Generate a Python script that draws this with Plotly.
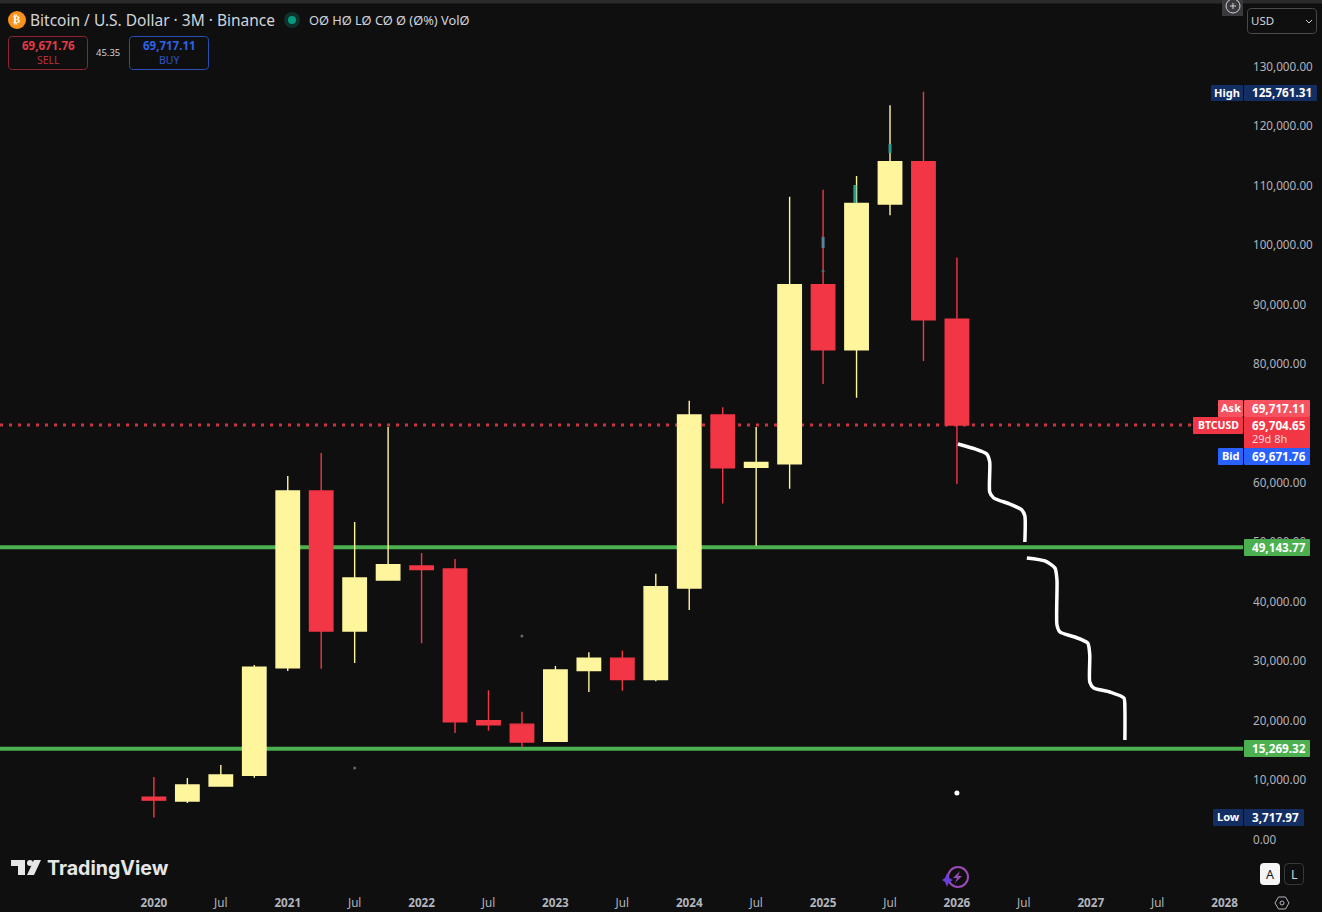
import plotly.graph_objects as go

# ---------- data ----------
quarters = list(range(25))
opens  = [7100, 6475, 9000, 10780, 28900, 58620, 35070, 43650, 46000, 45500, 20000, 19400, 16500,
          28400, 30500, 26900, 42300, 71400, 62600, 63200, 93300, 82350, 106900, 114000, 87500]
highs  = [10513, 10345, 12530, 29350, 61150, 65000, 53400, 69400, 48200, 47200, 25100, 21500, 29200,
          31500, 31800, 44700, 73800, 72700, 69400, 108100, 109300, 111600, 123500, 125761, 97900]
lows   = [3718, 6140, 8900, 10400, 28350, 28700, 29700, 43500, 33000, 17900, 18300, 15500, 16400,
          24800, 25000, 26600, 38600, 56500, 49400, 59000, 76600, 74300, 105000, 80500, 59800]
closes = [6620, 9167, 10850, 29000, 58620, 35070, 44000, 46200, 45400, 19800, 19300, 16400, 28500,
          30500, 26900, 42500, 71400, 62500, 63400, 93300, 82350, 107000, 114000, 87400, 69700]

path_a_x = [24.03, 24.54, 24.89, 24.98, 24.98, 25.10, 25.58, 25.94, 26.03, 26.03]
path_a_y = [66530, 65690, 64850, 63500, 58450, 57440, 56430, 55430, 54420, 50040]
path_b_x = [26.09, 26.63, 26.93, 26.99, 26.99, 27.08, 27.52, 27.91, 27.97, 27.97, 28.09, 28.57, 28.99, 29.02, 29.02]
path_b_y = [47350, 46850, 45670, 43650, 36080, 34900, 34060, 33050, 31030, 26490, 25480, 24810, 23800, 21780, 16740]

support_levels = [49143.77, 15269.32]
last_price = 69704.65

slate_x = [20, 20]; slate_y = [101360, 99500]
teal_x = [20.95, 20.95, None, 22, 22]; teal_y = [110090, 107060, None, 116990, 115470]
speck_x = [6, 11, 20]; speck_y = [12030, 34230, 95630]
dot_x = [24]; dot_y = [7820]

tick_pos = [0, 2, 4, 6, 8, 10, 12, 14, 16, 18, 20, 22, 24, 26, 28, 30, 32]
tick_txt = ["<b>2020</b>", "Jul", "<b>2021</b>", "Jul", "<b>2022</b>", "Jul", "<b>2023</b>", "Jul", "<b>2024</b>",
            "Jul", "<b>2025</b>", "Jul", "<b>2026</b>", "Jul", "<b>2027</b>", "Jul", "<b>2028</b>"]
price_ticks = list(range(0, 140000, 10000))

# ---------- style ----------
BG, UP, DN = "#0f0f0f", "#fff59d", "#f23645"
GREEN, NAVY, BLUE = "#4caf50", "#132e63", "#2962ff"
GREY = "#b2b5be"
FONT = "Noto Sans"
W, H = 1322, 912
L, R, T, B = 0, 79, 4, 22
PW, PH = W - L - R, H - T - B

def px(x): return (x - L) / PW
def py(y): return 1 - (y - T) / PH

shapes, annos = [], []

def rect(x0, y0, x1, y1, fill=None, line=None, lw=1, r=0):
    k = lambda a, b: f"{px(a):.5f},{py(b):.5f}"
    if r:
        d = (f"M{k(x0 + r, y0)} L{k(x1 - r, y0)} Q{k(x1, y0)} {k(x1, y0 + r)} L{k(x1, y1 - r)} "
             f"Q{k(x1, y1)} {k(x1 - r, y1)} L{k(x0 + r, y1)} Q{k(x0, y1)} {k(x0, y1 - r)} "
             f"L{k(x0, y0 + r)} Q{k(x0, y0)} {k(x0 + r, y0)} Z")
    else:
        d = f"M{k(x0, y0)} L{k(x1, y0)} L{k(x1, y1)} L{k(x0, y1)} Z"
    shapes.append(dict(type="path", xref="paper", yref="paper", layer="above", path=d,
                       fillcolor=fill or "rgba(0,0,0,0)", line=dict(color=line or "rgba(0,0,0,0)", width=lw if line else 0)))

def circ(cx, cy, r, fill=None, line=None, lw=1):
    shapes.append(dict(type="circle", xref="paper", yref="paper", layer="above",
                       x0=px(cx - r), x1=px(cx + r), y0=py(cy + r), y1=py(cy - r),
                       fillcolor=fill or "rgba(0,0,0,0)", line=dict(color=line or "rgba(0,0,0,0)", width=lw if line else 0)))

def poly(pts, fill=None, line=None, lw=1, close=True):
    d = "M" + " L".join(f"{px(a):.5f},{py(b):.5f}" for a, b in pts) + (" Z" if close else "")
    shapes.append(dict(type="path", xref="paper", yref="paper", layer="above", path=d,
                       fillcolor=fill or "rgba(0,0,0,0)", line=dict(color=line or "rgba(0,0,0,0)", width=lw if line else 0)))

def text(x, y, s, size=12, color="#ffffff", anchor="left", family=FONT):
    annos.append(dict(xref="paper", yref="paper", x=px(x), y=py(y), text=s, showarrow=False,
                      xanchor=anchor, yanchor="middle", borderpad=0, borderwidth=0,
                      font=dict(family=family, size=size, color=color)))

# top strip
rect(0, -4, W, 3.5, fill="#2a2a2c")

# legend row
circ(17, 20, 9, fill="#f7931a")
text(17, 20, "<b>₿</b>", 11, "#ffffff", "center", "DejaVu Sans")
text(30, 19.5, "Bitcoin / U.S. Dollar · 3M · Binance", 15.5, "#d1d4dc")
circ(292, 20, 8, fill="#10302b")
circ(292, 20, 4, fill="#089981")
text(309, 19.5, "OØ HØ LØ CØ Ø (Ø%) VolØ", 12.8, "#d1d4dc")

# sell / buy
rect(8.5, 36.5, 87.5, 69.5, line="#8f2730", r=4)
text(48, 45.5, "<b>69,671.76</b>", 11.5, "#e03b47", "center")
text(48, 60, "SELL", 10.5, "#b8323c", "center")
text(108, 52.5, "45.35", 9.5, "#d1d4dc", "center")
rect(129.5, 36.5, 208.5, 69.5, line="#2a4fb8", r=4)
text(169, 45.5, "<b>69,717.11</b>", 11.5, "#2f62e8", "center")
text(169, 60, "BUY", 10.5, "#2a55c9", "center")

# top-right controls
rect(1222, 0, 1243, 16, fill="#3a3a3c")
circ(1233, 6, 7, line="#d1d4dc")
poly([(1233, 3), (1233, 9)], line="#d1d4dc", close=False)
poly([(1230, 6), (1236, 6)], line="#d1d4dc", close=False)
rect(1247.5, 8.5, 1316.5, 33.5, line="#4a4a4c", r=4)
text(1251, 20.5, "USD", 11.5, "#d1d4dc")
poly([(1306, 20), (1309, 23), (1312, 20)], line="#d1d4dc", close=False)

# price labels
def plabel(y0, y1, xl, name, val, fill, xr=1310):
    rect(xl, y0, 1243, y1, fill=fill, r=1)
    rect(1244, y0, xr, y1, fill=fill, r=1)
    text((xl + 1243) / 2, (y0 + y1) / 2 - 0.7, name, 11, "#ffffff", "center")
    text(1252, (y0 + y1) / 2 - 0.7, val, 11.7, "#ffffff")

plabel(85, 101, 1211, "<b>High</b>", "<b>125,761.31</b>", NAVY, 1317)
plabel(809, 826, 1213, "<b>Low</b>", "<b>3,717.97</b>", NAVY, 1304)
plabel(400, 417, 1218, "<b>Ask</b>", "<b>69,717.11</b>", "#f7525f")
rect(1193, 417, 1243, 434, fill=DN, r=1)
rect(1244, 417, 1310, 448, fill=DN)
text(1218, 425, "<b>BTCUSD</b>", 10.5, "#ffffff", "center")
text(1252, 424.5, "<b>69,704.65</b>", 11.7, "#ffffff")
text(1252, 438, "29d 8h", 11, "#ffd6da")
plabel(448, 465, 1218, "<b>Bid</b>", "<b>69,671.76</b>", BLUE)
rect(1244, 539, 1310, 556, fill=GREEN, r=1)
text(1252, 546.5, "<b>49,143.77</b>", 11.7, "#ffffff")
rect(1244, 740, 1310, 757, fill=GREEN, r=1)
text(1252, 748, "<b>15,269.32</b>", 11.7, "#ffffff")

# TradingView logo
LOGO = "#e6e6e6"
poly([(11, 860), (25, 860), (25, 875), (18, 875), (18, 866), (11, 866)], fill=LOGO)
circ(30, 863, 3, fill=LOGO)
poly([(34, 860), (41, 860), (34, 875), (27, 875)], fill=LOGO)
text(47, 868, "<b>TradingView</b>", 19.6, LOGO, "left", "Inter")

# spark icon
circ(958, 877, 10, line="#9c4ab8", lw=2)
poly([(960, 871), (953, 878), (957, 878), (955, 883), (962, 876), (958, 876)], fill="#9c4ab8")
poly([(947, 873), (949, 878), (953, 880), (949, 882), (947, 887), (945, 882), (942, 880), (945, 878)], fill="#6a3fe0")

# A / L
rect(1260, 863, 1280, 885, fill="#f5f5f5", r=4)
text(1270, 874, "A", 12.5, "#131722", "center")
rect(1284.5, 863.5, 1303.5, 884.5, line="#3a3a3c", r=4)
text(1294, 874, "L", 12.5, "#d1d4dc", "center")

# gear
poly([(1275, 903), (1278.5, 897), (1285.5, 897), (1289, 903), (1285.5, 909), (1278.5, 909)], line="#b2b5be")
circ(1282, 903, 2, line="#b2b5be")

# levels sit behind the candles
for lvl in support_levels:
    shapes.append(dict(type="line", xref="x", yref="y", x0=-4.6, x1=32.55, y0=lvl, y1=lvl,
                       layer="below", line=dict(color=GREEN, width=4)))
shapes.append(dict(type="line", xref="x", yref="y", x0=-4.6, x1=32.55, y0=last_price, y1=last_price,
                   layer="below", line=dict(color="#c8343f", width=3, dash="3px 6px")))

fig = go.Figure()
fig.add_trace(go.Candlestick(
    x=quarters, open=opens, high=highs, low=lows, close=closes,
    increasing=dict(line=dict(color=UP, width=1.4), fillcolor=UP),
    decreasing=dict(line=dict(color=DN, width=1.4), fillcolor=DN),
    whiskerwidth=0, showlegend=False, hoverinfo="skip"))
for xs, ys in [(path_a_x, path_a_y), (path_b_x, path_b_y)]:
    fig.add_trace(go.Scatter(x=xs, y=ys, mode="lines", showlegend=False, hoverinfo="skip",
                             line=dict(color="#ffffff", width=3.5, shape="spline", smoothing=0.6)))
fig.add_trace(go.Scatter(x=slate_x, y=slate_y, mode="lines", showlegend=False, hoverinfo="skip",
                         line=dict(color="#5f7f9a", width=3)))
fig.add_trace(go.Scatter(x=teal_x, y=teal_y, mode="lines", showlegend=False, hoverinfo="skip",
                         line=dict(color="#2a9d8f", width=3)))
fig.add_trace(go.Scatter(x=speck_x, y=speck_y, mode="markers", showlegend=False, hoverinfo="skip",
                         marker=dict(color="#5a6a75", size=3)))
fig.add_trace(go.Scatter(x=dot_x, y=dot_y, mode="markers", showlegend=False, hoverinfo="skip",
                         marker=dict(color="#ffffff", size=5)))

fig.update_layout(
    width=W, height=H, margin=dict(l=L, r=R, t=T, b=B, pad=0, autoexpand=False),
    paper_bgcolor=BG, plot_bgcolor=BG, boxgap=0.3, boxgroupgap=0,
    font=dict(family=FONT, size=12, color=GREY), shapes=shapes, annotations=annos,
    xaxis=dict(range=[-4.6, 32.55], tickmode="array", tickvals=tick_pos, ticktext=tick_txt,
               showgrid=False, zeroline=False, showline=False, ticks="", rangeslider=dict(visible=False),
               tickfont=dict(family=FONT, size=11.7, color=GREY), ticklabelstandoff=4),
    yaxis=dict(range=[-8495, 140530], side="right", tickmode="array", tickvals=price_ticks,
               ticktext=[f"{v:,.2f}" for v in price_ticks],
               showgrid=False, zeroline=False, showline=False, ticks="", ticklabelstandoff=9,
               tickfont=dict(family=FONT, size=11.7, color=GREY)),
)
fig.write_html("out.html", config=dict(displayModeBar=False),
               post_script="document.body.style.margin='0';document.body.style.overflow='hidden';document.body.style.background='#0f0f0f';")
